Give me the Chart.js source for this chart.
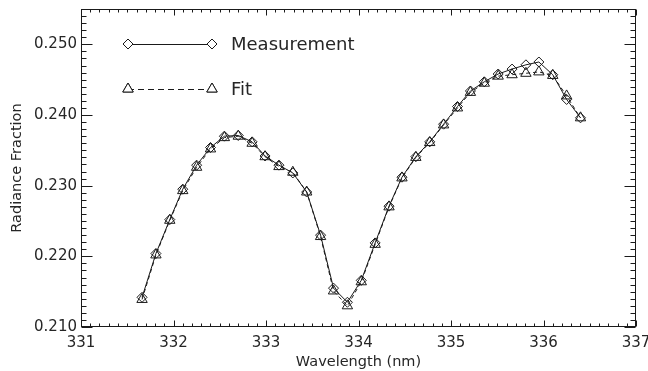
<!DOCTYPE html>
<html>
<head>
<meta charset="utf-8">
<script src="https://cdn.jsdelivr.net/npm/chart.js@4/dist/chart.umd.min.js"></script>
<style>
  html, body { margin: 0; padding: 0; background: #fff; }
  canvas { display: block; }
</style>
</head>
<body>
<canvas id="chart" width="648" height="371"></canvas>
<script>
'use strict';

// wavelengths (nm)
var wavelengths = [331.66, 331.81, 331.96, 332.10, 332.25, 332.40, 332.55, 332.70, 332.85, 332.99,
  333.14, 333.29, 333.44, 333.59, 333.73, 333.88, 334.03, 334.18, 334.33, 334.47,
  334.62, 334.77, 334.92, 335.07, 335.21, 335.36, 335.51, 335.66, 335.81, 335.95,
  336.10, 336.25, 336.40];

var measurement = [0.2142, 0.2204, 0.2252, 0.2295, 0.2329, 0.2354, 0.2370, 0.2371, 0.2362, 0.2342,
  0.2329, 0.2318, 0.2291, 0.2230, 0.2155, 0.2135, 0.2166, 0.2219, 0.2271, 0.2312,
  0.2341, 0.2362, 0.2387, 0.2412, 0.2434, 0.2447, 0.2458, 0.2465, 0.2471, 0.2475,
  0.2457, 0.2422, 0.2396];

var fit = [0.2139, 0.2202, 0.2251, 0.2293, 0.2326, 0.2352, 0.2368, 0.2370, 0.2360, 0.2341,
  0.2327, 0.2319, 0.2291, 0.2228, 0.2151, 0.2130, 0.2164, 0.2217, 0.2270, 0.2311,
  0.2340, 0.2361, 0.2386, 0.2410, 0.2432, 0.2445, 0.2455, 0.2457, 0.2459, 0.2461,
  0.2456, 0.2427, 0.2396];

var xTicks = [331, 332, 333, 334, 335, 336, 337];
var yTicks = [0.210, 0.220, 0.230, 0.240, 0.250];

var FONT = "'DejaVu Sans', sans-serif";
var INK = '#1a1a1a';
var TEXT = '#262626';

function pairs(xs, ys) {
  return xs.map(function (x, i) { return { x: x, y: ys[i] }; });
}

// frame with inward ticks on all four sides (IDL style)
var framePlugin = {
  id: 'frame',
  afterDatasetsDraw: function (chart) {
    var ctx = chart.ctx, a = chart.chartArea;
    var xs = chart.scales.x, ys = chart.scales.y;
    var L = Math.round(a.left) + 0.5, R = Math.round(a.right) - 0.5;
    var T = Math.round(a.top) + 0.5, B = Math.round(a.bottom) - 0.5;
    ctx.save();
    ctx.strokeStyle = INK;
    ctx.lineWidth = 1;
    ctx.strokeRect(L, T, R - L, B - T);
    ctx.beginPath();
    var v, px, major;
    for (var i = 0; i <= 60; i++) {
      v = 331 + i * 0.1;
      px = Math.round(xs.getPixelForValue(v)) + 0.5;
      major = i % 10 === 0;
      var lx = major ? 6 : 3;
      ctx.moveTo(px, B); ctx.lineTo(px, B - lx);
      ctx.moveTo(px, T); ctx.lineTo(px, T + lx);
    }
    for (var j = 0; j <= 45; j++) {
      v = 0.210 + j * 0.001;
      px = Math.round(ys.getPixelForValue(v)) + 0.5;
      major = j % 10 === 0;
      var ly = major ? 11 : 5;
      ctx.moveTo(L, px); ctx.lineTo(L + ly, px);
      ctx.moveTo(R, px); ctx.lineTo(R - ly, px);
    }
    ctx.stroke();
    ctx.restore();
  }
};

// legend inside the plot: line sample with a marker at both ends
var legendPlugin = {
  id: 'insideLegend',
  afterDraw: function (chart) {
    var ctx = chart.ctx;
    var rows = [44, 89];
    var x0 = 128, x1 = 212, tx = 231;
    ctx.save();
    chart.data.datasets.forEach(function (ds, i) {
      var y = rows[i];
      ctx.strokeStyle = INK;
      ctx.lineWidth = 1;
      ctx.setLineDash(i === 1 ? [6, 4] : []);
      ctx.beginPath();
      ctx.moveTo(x0, y + 0.5);
      ctx.lineTo(x1, y + 0.5);
      ctx.stroke();
      ctx.setLineDash([]);
      [x0, x1].forEach(function (px) {
        ctx.beginPath();
        Chart.helpers.drawPoint(ctx, {
          pointStyle: ds.pointStyle, radius: ds.pointRadius, borderWidth: 1, rotation: 0
        }, px, y);
        ctx.fillStyle = '#fff';
        ctx.fill();
        ctx.stroke();
      });
      ctx.fillStyle = TEXT;
      ctx.font = '18px ' + FONT;
      ctx.textBaseline = 'middle';
      ctx.textAlign = 'left';
      ctx.fillText(ds.label, tx, y + 1);
    });
    ctx.restore();
  }
};

new Chart(document.getElementById('chart'), {
  type: 'scatter',
  data: {
    datasets: [{
      label: 'Measurement',
      data: pairs(wavelengths, measurement),
      showLine: true,
      borderColor: INK,
      borderWidth: 1,
      pointStyle: 'rectRot',
      pointRadius: 5,
      pointBorderColor: INK,
      pointBackgroundColor: 'rgba(0,0,0,0)',
      pointBorderWidth: 1
    }, {
      label: 'Fit',
      data: pairs(wavelengths, fit),
      showLine: true,
      borderColor: INK,
      borderWidth: 1,
      borderDash: [4, 3],
      pointStyle: 'triangle',
      pointRadius: 6,
      pointBorderColor: INK,
      pointBackgroundColor: 'rgba(0,0,0,0)',
      pointBorderWidth: 1
    }]
  },
  options: {
    responsive: false,
    animation: false,
    layout: { padding: { top: 9, right: 12, left: 0, bottom: 0 } },
    plugins: {
      legend: { display: false },
      tooltip: { enabled: false }
    },
    scales: {
      x: {
        type: 'linear',
        min: 331, max: 337,
        afterBuildTicks: function (s) { s.ticks = xTicks.map(function (v) { return { value: v }; }); },
        afterFit: function (s) { s.height = 44; s.paddingLeft = 0; s.paddingRight = 0; },
        grid: { display: false, drawTicks: false },
        border: { display: false },
        ticks: {
          padding: 7,
          color: TEXT,
          font: { family: FONT, size: 15 },
          maxRotation: 0,
          callback: function (v) { return String(v); }
        },
        title: {
          display: true,
          text: 'Wavelength (nm)',
          color: TEXT,
          font: { family: FONT, size: 14.5 },
          padding: { top: 0, bottom: 0 }
        }
      },
      y: {
        type: 'linear',
        min: 0.210, max: 0.255,
        afterBuildTicks: function (s) { s.ticks = yTicks.map(function (v) { return { value: v }; }); },
        afterFit: function (s) { s.width = 81; s.paddingTop = 0; s.paddingBottom = 0; },
        grid: { display: false, drawTicks: false },
        border: { display: false },
        ticks: {
          padding: 4,
          color: TEXT,
          font: { family: FONT, size: 15 },
          callback: function (v) { return v.toFixed(3); }
        },
        title: {
          display: true,
          text: 'Radiance Fraction',
          color: TEXT,
          font: { family: FONT, size: 14.5 },
          padding: { top: 9, bottom: 0 }
        }
      }
    }
  },
  plugins: [framePlugin, legendPlugin]
});
</script>
</body>
</html>
